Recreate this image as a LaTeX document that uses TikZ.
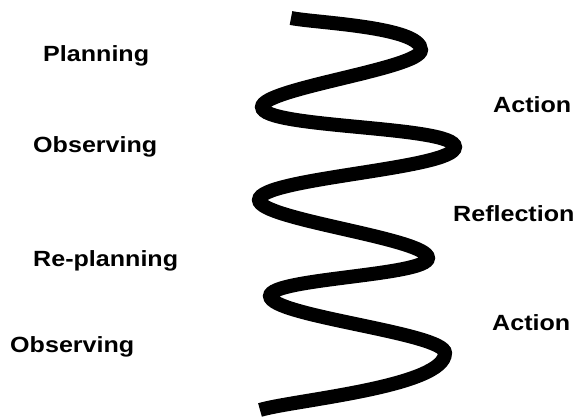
\documentclass[tikz,border=0pt]{standalone}
\usepackage{fontspec}
\setmainfont{Liberation Sans}

\begin{document}
\begin{tikzpicture}[
  x=1pt, y=1pt,
  lbl/.style={anchor=base west, inner sep=0pt, xscale=1.14,
              font=\fontsize{22}{26}\selectfont\bfseries, text=black},
  coil/.style={line width=14pt, draw=black, line cap=butt},
  turn/.style={out=-90, in=90, looseness=0.28},
]
\useasboundingbox (0,0) rectangle (578,419);

% turning points of the coil, left and right
\coordinate (top) at (291,401);
\coordinate (r1)  at (421,369);
\coordinate (l1)  at (262,312);
\coordinate (r2)  at (455,272);
\coordinate (l2)  at (259,219);
\coordinate (r3)  at (428,161);
\coordinate (l3)  at (270,123);
\coordinate (r4)  at (445,66);
\coordinate (bot) at (260,9);

\draw[coil] (top) to[out=-12, in=90, looseness=0.45] (r1)
  to[turn] (l1) to[turn] (r2) to[turn] (l2) to[turn] (r3)
  to[turn] (l3) to[turn] (r4)
  to[out=-90, in=17, looseness=0.45] (bot);

% left column
\node[lbl] (plan)   at (43,357) {Planning};
\node[lbl] (obsA)   at (33,266) {Observing};
\node[lbl] (replan) at (33,152) {Re-planning};
\node[lbl] (obsB)   at (10,66)  {Observing};

% right column
\node[lbl] (actA)   at (493,306) {Action};
\node[lbl] (refl)   at (453,197) {Reflection};
\node[lbl] (actB)   at (492,88)  {Action};

\end{tikzpicture}
\end{document}
